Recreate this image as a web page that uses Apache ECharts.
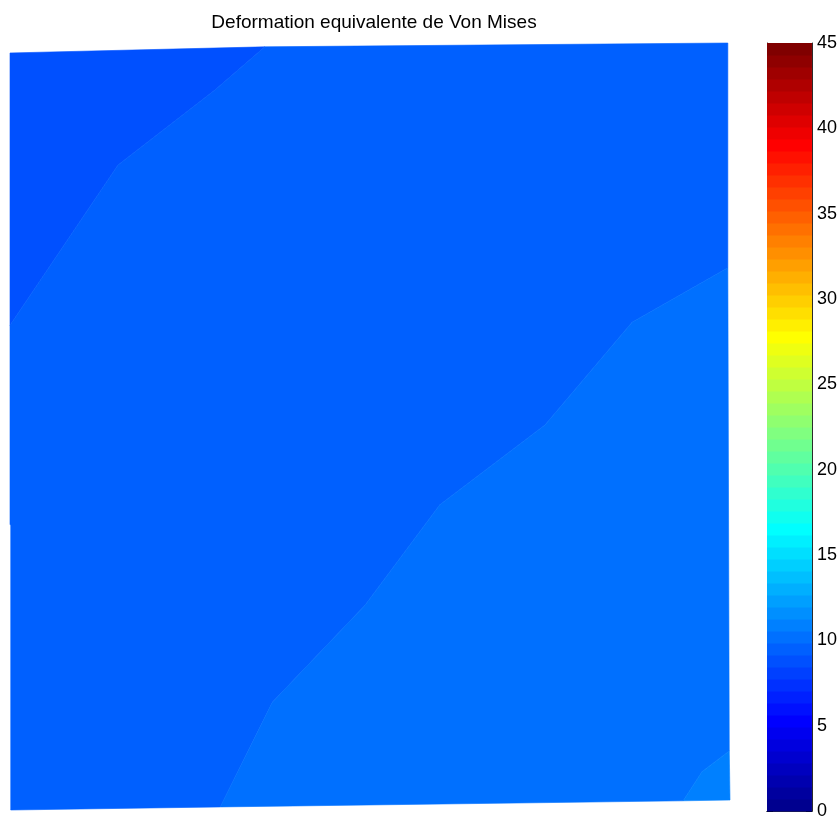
<!DOCTYPE html>
<html>
<head>
<meta charset="utf-8">
<script src="https://cdn.jsdelivr.net/npm/echarts@6/dist/echarts.min.js"></script>
<style>html,body{margin:0;padding:0;background:#fff}#c{width:840px;height:820px}</style>
</head>
<body>
<div id="c"></div>
<script>
// ---- data (normalised specimen coordinates, x to the right, y upward) ----
const titleText = 'Deformation equivalente de Von Mises';
const colorMin = 0, colorMax = 45, colorLevels = 64;
const colorbarTicks = [0, 5, 10, 15, 20, 25, 30, 35, 40, 45];

// contour band values (one per filled region)
const regionValues = [8.8, 9.5, 10.2, 10.9];

// region 1: upper-left band
const region1 = [[0, 0.987], [0.354, 0.995], [0.285, 0.939], [0.150, 0.841], [0, 0.632]];
// region 2: main band
const region2 = [[0.354, 0.995], [0.997, 1.0], [0.997, 0.707], [0.864, 0.636], [0.743, 0.502],
  [0.597, 0.398], [0.493, 0.267], [0.364, 0.140], [0.292, 0.004], [0.001, 0], [0.001, 0.372],
  [0, 0.372], [0, 0.632], [0.150, 0.841], [0.285, 0.939]];
// region 3: lower-right band
const region3 = [[0.997, 0.707], [0.999, 0.077], [0.961, 0.050], [0.935, 0.012], [0.292, 0.004],
  [0.364, 0.140], [0.493, 0.267], [0.597, 0.398], [0.743, 0.502], [0.864, 0.636]];
// region 4: bottom-right corner
const region4 = [[0.999, 0.077], [1.0, 0.013], [0.935, 0.012], [0.961, 0.050]];
const regions = [region1, region2, region3, region4];

// ---- MATLAB jet(64) colormap ----
function jetColor(k) { // k = 1..64
  const n = 16;
  const u = j => (j < 1 || j > 47) ? 0 : (j <= 16 ? j / n : (j <= 31 ? 1 : (48 - j) / n));
  const r = u(k - 24), g = u(k - 8), b = u(k + 8);
  const h = x => Math.round(x * 255).toString(16).padStart(2, '0');
  return '#' + h(r) + h(g) + h(b);
}
function valueToColor(v) {
  let k = Math.floor((v - colorMin) / (colorMax - colorMin) * colorLevels) + 1;
  k = Math.max(1, Math.min(colorLevels, k));
  return jetColor(k);
}
const step = (colorMax - colorMin) / colorLevels;
const colorbarBands = [];
for (let k = 1; k <= colorLevels; k++) colorbarBands.push([colorMin + (k - 1) * step, colorMin + k * step, k]);

const chart = echarts.init(document.getElementById('c'), null, {renderer: 'canvas'});
const font = '"Liberation Sans", Arial, Helvetica, sans-serif';
const hiddenAxis = {show: false};
const frameColor = '#2b2b2b';

chart.setOption({
  animation: false,
  backgroundColor: '#fff',
  title: {
    text: titleText, left: 369, top: 8, textAlign: 'center',
    textStyle: {fontFamily: font, fontSize: 19, fontWeight: 'normal', color: '#000'}
  },
  grid: [
    {left: 10, top: 43, width: 720, height: 767},
    {left: 767, top: 43, width: 45, height: 769}
  ],
  xAxis: [
    Object.assign({gridIndex: 0, type: 'value', min: 0, max: 1}, hiddenAxis),
    {gridIndex: 1, type: 'value', min: 0, max: 1, position: 'bottom',
      axisLine: {show: true, lineStyle: {color: frameColor, width: 1}}, axisTick: {show: false},
      axisLabel: {show: false}, splitLine: {show: false}},
    {gridIndex: 1, type: 'value', min: 0, max: 1, position: 'top',
      axisLine: {show: true, lineStyle: {color: frameColor, width: 1}}, axisTick: {show: false},
      axisLabel: {show: false}, splitLine: {show: false}}
  ],
  yAxis: [
    Object.assign({gridIndex: 0, type: 'value', min: 0, max: 1}, hiddenAxis),
    {gridIndex: 1, type: 'value', min: colorMin, max: colorMax, interval: 5, position: 'right',
      axisLine: {show: true, onZero: false, lineStyle: {color: frameColor, width: 1}},
      axisTick: {show: true, inside: true, length: 6, lineStyle: {color: '#000'}},
      axisLabel: {show: true, margin: 5, color: '#000', fontFamily: font, fontSize: 18,
        padding: [4, 0, 0, 0],
        formatter: v => colorbarTicks.indexOf(v) >= 0 ? String(v) : ''},
      splitLine: {show: false}},
    {gridIndex: 1, type: 'value', min: colorMin, max: colorMax, interval: 5, position: 'left',
      axisLine: {show: true, onZero: false, lineStyle: {color: frameColor, width: 1}},
      axisTick: {show: true, inside: true, length: 6, lineStyle: {color: '#000'}},
      axisLabel: {show: false}, splitLine: {show: false}}
  ],
  series: [
    {
      type: 'custom', xAxisIndex: 0, yAxisIndex: 0, clip: false,
      data: regionValues.map((v, i) => [i, v]),
      encode: {x: -1, y: -1},
      renderItem: function (params, api) {
        const i = params.dataIndex;
        const pts = regions[i].map(p => api.coord(p));
        const c = valueToColor(regionValues[i]);
        return {type: 'polygon', shape: {points: pts},
          style: {fill: c, stroke: c, lineWidth: 0.6}};
      }
    },
    {
      type: 'custom', xAxisIndex: 1, yAxisIndex: 1, clip: false, z: 1,
      data: colorbarBands,
      encode: {x: -1, y: [0, 1]},
      renderItem: function (params, api) {
        const lo = api.value(0), hi = api.value(1), k = api.value(2);
        const p1 = api.coord([0, hi]);
        const p2 = api.coord([1, lo]);
        const c = jetColor(k);
        return {type: 'rect',
          shape: {x: p1[0], y: p1[1], width: p2[0] - p1[0], height: p2[1] - p1[1] + 0.5},
          style: {fill: c}};
      }
    }
  ]
});
</script>
</body>
</html>
